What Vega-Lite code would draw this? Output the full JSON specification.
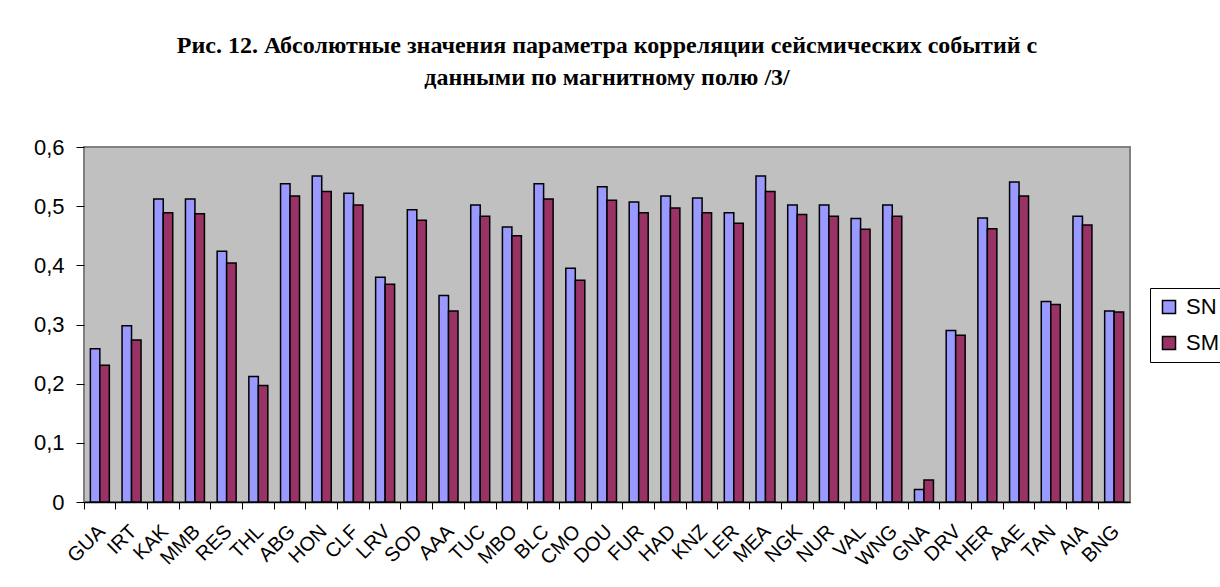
{
  "$schema": "https://vega.github.io/schema/vega-lite/v6.json",
  "width": 1046,
  "height": 355,
  "autosize": {"type": "none"},
  "padding": {"left": 84, "top": 147, "right": 90, "bottom": 85},
  "background": "white",
  "title": {
    "text": ["Рис. 12. Абсолютные значения параметра корреляции сейсмических событий с", "данными по магнитному полю /3/"],
    "font": "Liberation Serif",
    "fontSize": 24,
    "fontWeight": "bold",
    "color": "black",
    "lineHeight": 32,
    "anchor": "middle",
    "offset": 46
  },
  "data": {
    "values": [
      {"station": "GUA", "series": "SN", "value": 0.259}, {"station": "GUA", "series": "SM", "value": 0.231},
      {"station": "IRT", "series": "SN", "value": 0.298}, {"station": "IRT", "series": "SM", "value": 0.274},
      {"station": "KAK", "series": "SN", "value": 0.512}, {"station": "KAK", "series": "SM", "value": 0.489},
      {"station": "MMB", "series": "SN", "value": 0.512}, {"station": "MMB", "series": "SM", "value": 0.487},
      {"station": "RES", "series": "SN", "value": 0.424}, {"station": "RES", "series": "SM", "value": 0.404},
      {"station": "THL", "series": "SN", "value": 0.212}, {"station": "THL", "series": "SM", "value": 0.197},
      {"station": "ABG", "series": "SN", "value": 0.538}, {"station": "ABG", "series": "SM", "value": 0.517},
      {"station": "HON", "series": "SN", "value": 0.551}, {"station": "HON", "series": "SM", "value": 0.525},
      {"station": "CLF", "series": "SN", "value": 0.522}, {"station": "CLF", "series": "SM", "value": 0.502},
      {"station": "LRV", "series": "SN", "value": 0.380}, {"station": "LRV", "series": "SM", "value": 0.368},
      {"station": "SOD", "series": "SN", "value": 0.494}, {"station": "SOD", "series": "SM", "value": 0.476},
      {"station": "AAA", "series": "SN", "value": 0.349}, {"station": "AAA", "series": "SM", "value": 0.323},
      {"station": "TUC", "series": "SN", "value": 0.502}, {"station": "TUC", "series": "SM", "value": 0.483},
      {"station": "MBO", "series": "SN", "value": 0.465}, {"station": "MBO", "series": "SM", "value": 0.450},
      {"station": "BLC", "series": "SN", "value": 0.538}, {"station": "BLC", "series": "SM", "value": 0.512},
      {"station": "CMO", "series": "SN", "value": 0.395}, {"station": "CMO", "series": "SM", "value": 0.375},
      {"station": "DOU", "series": "SN", "value": 0.533}, {"station": "DOU", "series": "SM", "value": 0.510},
      {"station": "FUR", "series": "SN", "value": 0.507}, {"station": "FUR", "series": "SM", "value": 0.489},
      {"station": "HAD", "series": "SN", "value": 0.517}, {"station": "HAD", "series": "SM", "value": 0.497},
      {"station": "KNZ", "series": "SN", "value": 0.514}, {"station": "KNZ", "series": "SM", "value": 0.489},
      {"station": "LER", "series": "SN", "value": 0.489}, {"station": "LER", "series": "SM", "value": 0.471},
      {"station": "MEA", "series": "SN", "value": 0.551}, {"station": "MEA", "series": "SM", "value": 0.525},
      {"station": "NGK", "series": "SN", "value": 0.502}, {"station": "NGK", "series": "SM", "value": 0.486},
      {"station": "NUR", "series": "SN", "value": 0.502}, {"station": "NUR", "series": "SM", "value": 0.483},
      {"station": "VAL", "series": "SN", "value": 0.479}, {"station": "VAL", "series": "SM", "value": 0.461},
      {"station": "WNG", "series": "SN", "value": 0.502}, {"station": "WNG", "series": "SM", "value": 0.483},
      {"station": "GNA", "series": "SN", "value": 0.021}, {"station": "GNA", "series": "SM", "value": 0.037},
      {"station": "DRV", "series": "SN", "value": 0.290}, {"station": "DRV", "series": "SM", "value": 0.282},
      {"station": "HER", "series": "SN", "value": 0.480}, {"station": "HER", "series": "SM", "value": 0.462},
      {"station": "AAE", "series": "SN", "value": 0.541}, {"station": "AAE", "series": "SM", "value": 0.517},
      {"station": "TAN", "series": "SN", "value": 0.339}, {"station": "TAN", "series": "SM", "value": 0.334},
      {"station": "AIA", "series": "SN", "value": 0.483}, {"station": "AIA", "series": "SM", "value": 0.468},
      {"station": "BNG", "series": "SN", "value": 0.323}, {"station": "BNG", "series": "SM", "value": 0.321}
    ]
  },
  "mark": {"type": "bar", "stroke": "black", "strokeWidth": 1.5},
  "encoding": {
    "x": {
      "field": "station",
      "type": "nominal",
      "sort": null,
      "title": null,
      "scale": {"paddingInner": 0, "paddingOuter": 0},
      "axis": {
        "bandPosition": 0,
        "labelAngle": -45,
        "labelFont": "Liberation Sans",
        "labelFontSize": 20,
        "labelColor": "black",
        "labelPadding": 12,
        "labelOffset": -5,
        "tickColor": "black",
        "tickSize": 7,
        "domainColor": "black",
        "domainWidth": 1.5,
        "grid": false
      }
    },
    "xOffset": {
      "field": "series",
      "type": "nominal",
      "sort": ["SN", "SM"],
      "scale": {"paddingInner": 0, "paddingOuter": 0.67}
    },
    "y": {
      "field": "value",
      "type": "quantitative",
      "title": null,
      "scale": {"domain": [0, 0.6], "nice": false},
      "axis": {
        "values": [0, 0.1, 0.2, 0.3, 0.4, 0.5, 0.6],
        "labelExpr": "datum.value == 0 ? '0' : replace(format(datum.value, '.1f'), '.', ',')",
        "labelFont": "Liberation Sans",
        "labelFontSize": 22,
        "labelColor": "black",
        "labelPadding": 12,
        "tickColor": "black",
        "tickSize": 8,
        "domain": false,
        "grid": false
      }
    },
    "color": {
      "field": "series",
      "type": "nominal",
      "sort": ["SN", "SM"],
      "scale": {"domain": ["SN", "SM"], "range": ["#9999FF", "#993366"]},
      "legend": {
        "title": null,
        "orient": "none",
        "legendX": 1066,
        "legendY": 141,
        "symbolType": "square",
        "symbolSize": 170,
        "symbolStrokeColor": "black",
        "symbolStrokeWidth": 1.5,
        "symbolOpacity": 1,
        "labelFont": "Liberation Sans",
        "labelFontSize": 22,
        "labelColor": "black",
        "labelOffset": 6,
        "rowPadding": 14,
        "padding": 8,
        "strokeColor": "black",
        "fillColor": "white"
      }
    }
  },
  "config": {
    "view": {"fill": "#C0C0C0", "stroke": "#808080", "strokeWidth": 2},
    "bar": {"opacity": 1}
  }
}
